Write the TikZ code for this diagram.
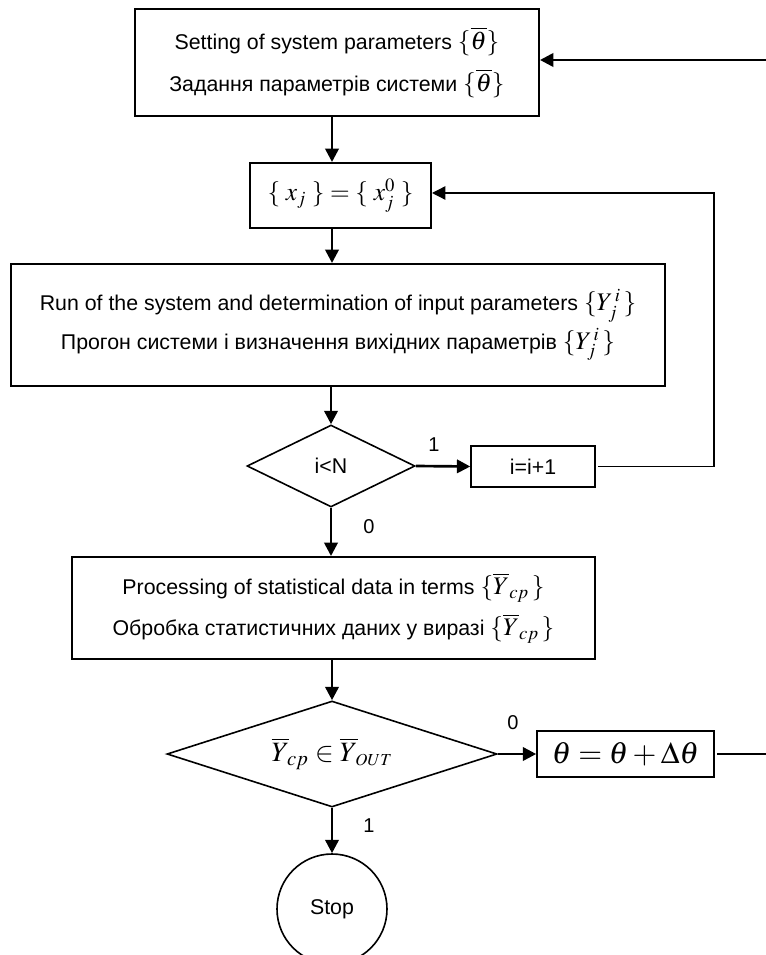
\documentclass[tikz,border=0pt]{standalone}
\usepackage{mathptmx}
\usepackage[no-math]{fontspec}
\setmainfont{Liberation Sans}
\usetikzlibrary{shapes.geometric,arrows.meta}

\newcommand{\mbig}[1]{{\fontsize{19}{19}\selectfont$#1$}}

\begin{document}
\begin{tikzpicture}[x=0.75pt,y=-0.75pt,
	every node/.style={font=\fontsize{16}{31}\selectfont},
	box/.style={draw,line width=1.5pt,inner sep=0pt,align=center},
	cond/.style={draw,diamond,line width=1.2pt,inner sep=0pt},
	arr/.style={line width=2pt,-{Triangle[length=10pt,width=10pt]}},
	thinarr/.style={line width=1pt,-{Triangle[length=10pt,width=10pt]}},
	lbl/.style={font=\fontsize{15}{18}\selectfont}]
	\useasboundingbox (0,0) rectangle (766,955);
	\coordinate (col) at (332,0);
	\coordinate (loopc) at (714,193);
	\coordinate (backc) at (770,60);
	\node[box,minimum width=303pt,minimum height=80.25pt] (setp) at (337,62.5) {Setting of system parameters \mbig{\{\overline{\theta}\}}\\Задання параметрів системи \mbig{\{\overline{\theta}\}}};
	\node[box,minimum width=135.75pt,minimum height=48.75pt] (xbox) at (340.5,195.5) {\mbig{\{\;x_{j}\;\}=\{\;x_{j}^{0}\;\}}};
	\node[box,minimum width=490.5pt,minimum height=91.5pt] (run) at (338,325) {Run of the system and determination of input parameters \mbig{\{Y_{j}^{\,i}\,\}}\\[-2pt]Прогон системи і визначення вихідних параметрів \mbig{\{Y_{j}^{\,i}\,\}}};
	\node[cond,aspect=2,minimum width=126pt,minimum height=61.5pt] (cond1) at (331,466) {i<N};
	\node[box,line width=1.1pt,minimum width=93pt,minimum height=30.75pt] (inc) at (533,466.5) {i=i+1};
	\node[box,minimum width=392.25pt,minimum height=76.5pt] (proc) at (333.5,608) {Processing of statistical data in terms \mbig{\{\overline{Y}_{cp}\,\}}\\Обробка статистичних даних у виразі \mbig{\{\overline{Y}_{cp}\,\}}};
	\node[cond,aspect=3.1,minimum width=247.5pt,minimum height=79.5pt] (cond2) at (332,754) {{\fontsize{21}{21}\selectfont$\overline{Y}_{\!cp}\in\overline{Y}_{\!\scriptscriptstyle OUT}$}};
	\node[box,line width=1.2pt,minimum width=132.75pt,minimum height=34.5pt] (upd) at (625.5,754) {{\fontsize{23}{28}\selectfont$\theta=\theta+\Delta\theta$}};
	\node[draw,circle,line width=1.2pt,minimum size=82.5pt,inner sep=0pt] (stop) at (332,909) {Stop};
	\draw[arr] (setp.south -| col) -- (xbox.north -| col);
	\draw[arr] (xbox.south -| col) -- (run.north -| col);
	\draw[arr] (run.south -| cond1.north) -- (cond1.north);
	\draw[arr] (cond1.east) -- (inc.west);
	\node[lbl] (one) at (434,445) {1};
	\draw[thinarr] ([xshift=2pt]inc.east) -| (loopc) -- (loopc -| xbox.east);
	\draw[arr] (cond1.south) -- (proc.north -| cond1.south);
	\node[lbl] (zero) at (369,527) {0};
	\draw[arr] (proc.south -| cond2.north) -- (cond2.north);
	\draw[arr] (cond2.east) -- (upd.west);
	\node[lbl] (zerob) at (513,723) {0};
	\draw[line width=1pt] ([xshift=2pt]upd.east) -- (upd.east -| backc) -- (backc);
	\draw[arr] (backc) -- (backc -| setp.east);
	\draw[arr] (cond2.south) -- (stop.north);
	\node[lbl] (oneb) at (369,826) {1};
\end{tikzpicture}
\end{document}
